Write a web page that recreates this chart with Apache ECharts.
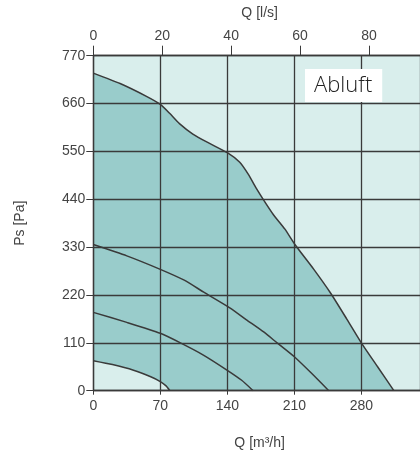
<!DOCTYPE html>
<html><head><meta charset="utf-8">
<script src="https://cdn.jsdelivr.net/npm/echarts@6/dist/echarts.min.js"></script>
<style>html,body{margin:0;padding:0;background:#fff}#c{width:420px;height:455px}</style>
</head><body><div id="c"></div>
<script>
// Flow Q [m³/h] vs static pressure Ps [Pa]
const xTicksM3h = [0, 70, 140, 210, 280];
const xTicksLs = [0, 20, 40, 60, 80];
const yTicks = [0, 110, 220, 330, 440, 550, 660, 770];
const curveMax = [[0,730],[28,706],[56,676],[70,658],[80,637],[90,614],[104,590],[120,570],[140,547],[153,525],[162,497],[170,466],[178,438],[188,405],[200,372],[211,335],[230,280],[248,224],[265,164],[280,110],[297,55],[314,0]];
const curve3 = [[0,336],[35,310],[70,279],[95,254],[115,227],[143,190],[160,163],[178,135],[192,110],[210,78],[228,40],[246,0]];
const curve2 = [[0,180],[35,157],[70,132],[91,110],[115,82],[140,47],[155,24],[167,0]];
const curve1 = [[0,69],[20,60],[42,47],[60,32],[70,21],[76,11],[80,0]];
const labelText = 'Abluft';

const LIGHT = '#d9eeec', DARK = '#99cccb', LINE = '#3a3a3a', TXT = '#444';
const font = 'Liberation Sans, Arial, sans-serif';
const X_MAX = 341.3;
const chart = echarts.init(document.getElementById('c'), null, {renderer:'canvas'});
const lineSeries = (d, z) => ({type:'line', data:d, symbol:'none', smooth:0.2, z:z,
  lineStyle:{color:LINE, width:1.5}, silent:true, animation:false});
const areaSeries = (d, color, z) => ({type:'line', data:d, symbol:'none', smooth:0.2, z:z,
  lineStyle:{width:0}, areaStyle:{color:color, opacity:1}, silent:true, animation:false});

chart.setOption({
  animation:false,
  title:{text:labelText, left:305, top:69, padding:[6,10,5,9], backgroundColor:'#fff',
    textStyle:{fontFamily:'Open Sans', fontWeight:300, fontSize:22, lineHeight:22, color:'#222'}},
  grid:{left:93.3, right:0, top:55.7, bottom:64.3, show:true, backgroundColor:LIGHT, borderWidth:0},
  xAxis:[{
    type:'value', position:'bottom', min:0, max:X_MAX, interval:70, z:3,
    name:'Q [m³/h]', nameLocation:'middle', nameGap:45,
    nameTextStyle:{fontFamily:font, fontSize:14, color:TXT, padding:[0,0,0,6]},
    axisLine:{show:true, lineStyle:{color:LINE, width:1.3}},
    axisTick:{show:true, length:4, lineStyle:{color:LINE}},
    axisLabel:{margin:8, fontFamily:font, fontSize:14, color:TXT, showMaxLabel:false,
      formatter:v => xTicksM3h.includes(v) ? String(v) : ''},
    splitLine:{show:true, lineStyle:{color:LINE, width:1.3}}
  },{
    type:'value', position:'top', min:0, max:X_MAX/3.6, interval:20, z:3,
    name:'Q [l/s]', nameLocation:'middle', nameGap:36,
    nameTextStyle:{fontFamily:font, fontSize:14, color:TXT, padding:[0,0,0,6]},
    axisLine:{show:true, lineStyle:{color:LINE, width:1.3}},
    axisTick:{show:true, length:10, lineStyle:{color:LINE}},
    axisLabel:{margin:13, fontFamily:font, fontSize:14, color:TXT, showMaxLabel:false,
      formatter:v => xTicksLs.includes(v) ? String(v) : ''},
    splitLine:{show:false}
  }],
  yAxis:{
    type:'value', min:0, max:770, interval:110, z:3,
    name:'Ps [Pa]', nameLocation:'middle', nameGap:66, nameRotate:90,
    nameTextStyle:{fontFamily:font, fontSize:14, color:TXT},
    axisLine:{show:true, lineStyle:{color:LINE, width:1.3}},
    axisTick:{show:true, length:7, lineStyle:{color:LINE}},
    axisLabel:{margin:8, fontFamily:font, fontSize:14, color:TXT,
      formatter:v => yTicks.includes(v) ? String(v) : ''},
    splitLine:{show:true, lineStyle:{color:LINE, width:1.3}}
  },
  series:[
    areaSeries(curveMax, DARK, 1),
    areaSeries(curve1, LIGHT, 1.5),
    lineSeries(curveMax, 5),
    lineSeries(curve3, 5),
    lineSeries(curve2, 5),
    lineSeries(curve1, 5)
  ]
});
</script></body></html>
